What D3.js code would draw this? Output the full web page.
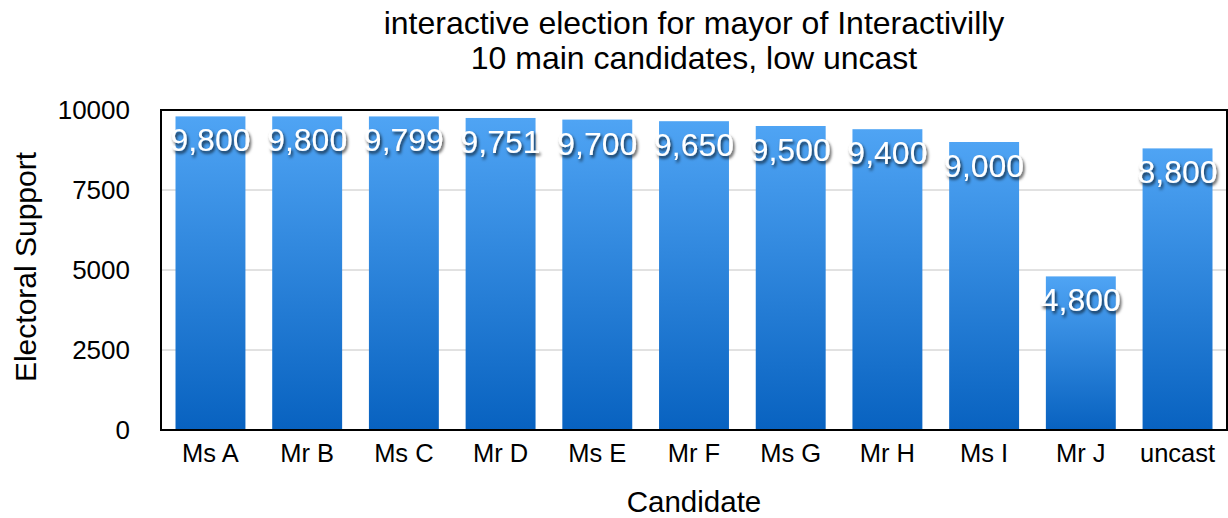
<!DOCTYPE html>
<html>
<head>
<meta charset="utf-8">
<script src="https://cdn.jsdelivr.net/npm/d3@7"></script>
<style>
  html, body { margin: 0; padding: 0; background: #fff; }
  svg { display: block; font-family: "Liberation Sans", Arial, Helvetica, sans-serif; }
</style>
</head>
<body>
<svg id="chart" width="1228" height="518"></svg>
<script>
// Candidates and their electoral support
const candidates = ["Ms A", "Mr B", "Ms C", "Mr D", "Ms E", "Mr F", "Ms G", "Mr H", "Ms I", "Mr J", "uncast"];
const support = [9800, 9800, 9799, 9751, 9700, 9650, 9500, 9400, 9000, 4800, 8800];
const yTicks = [0, 2500, 5000, 7500, 10000];
const titleLines = ["interactive election for mayor of Interactivilly", "10 main candidates, low uncast"];
const xTitle = "Candidate";
const yTitle = "Electoral Support";

const data = candidates.map((c, i) => ({ name: c, value: support[i] }));

const svg = d3.select("#chart");
const frame = { left: 161, right: 1227, top: 110, bottom: 430 };

const x = d3.scaleBand()
  .domain(candidates)
  .range([frame.left, frame.right])
  .paddingInner(0.277)
  .paddingOuter(0.15);

const y = d3.scaleLinear()
  .domain([0, 10000])
  .range([frame.bottom, frame.top]);

const defs = svg.append("defs");
const grad = defs.append("linearGradient")
  .attr("id", "barGrad")
  .attr("x1", 0).attr("y1", 0).attr("x2", 0).attr("y2", 1);
grad.append("stop").attr("offset", "0%").attr("stop-color", "#4fa4f4");
grad.append("stop").attr("offset", "100%").attr("stop-color", "#0862c0");

const shadow = defs.append("filter")
  .attr("id", "labelShadow")
  .attr("x", "-20%").attr("y", "-30%").attr("width", "140%").attr("height", "160%");
shadow.append("feDropShadow")
  .attr("dx", 1.5).attr("dy", 2.5)
  .attr("stdDeviation", 1.6)
  .attr("flood-color", "#000")
  .attr("flood-opacity", 0.75);

// Horizontal gridlines
svg.append("g")
  .selectAll("line")
  .data(yTicks.filter(t => t > 0 && t < 10000))
  .join("line")
  .attr("x1", frame.left).attr("x2", frame.right)
  .attr("y1", d => y(d)).attr("y2", d => y(d))
  .attr("stroke", "#c4c4c4")
  .attr("stroke-width", 1);

// Bars
svg.append("g")
  .selectAll("rect")
  .data(data)
  .join("rect")
  .attr("x", d => x(d.name))
  .attr("width", x.bandwidth())
  .attr("y", d => y(d.value))
  .attr("height", d => y(0) - y(d.value))
  .attr("fill", "url(#barGrad)");

// Plot frame
svg.append("rect")
  .attr("x", frame.left).attr("y", frame.top)
  .attr("width", frame.right - frame.left)
  .attr("height", frame.bottom - frame.top)
  .attr("fill", "none")
  .attr("stroke", "#000")
  .attr("stroke-width", 2);

// Value labels
const fmt = d3.format(",");
svg.append("g")
  .selectAll("text")
  .data(data)
  .join("text")
  .attr("x", d => x(d.name) + x.bandwidth() / 2)
  .attr("y", d => y(d.value) + 35)
  .attr("text-anchor", "middle")
  .attr("font-size", 32)
  .attr("fill", "#fff")
  .attr("filter", "url(#labelShadow)")
  .text(d => fmt(d.value));

// Y axis
const yAxis = d3.axisLeft(y)
  .tickValues(yTicks)
  .tickSize(0)
  .tickPadding(31)
  .tickFormat(d3.format("d"));
const yg = svg.append("g")
  .attr("transform", `translate(${frame.left},0)`)
  .call(yAxis);
yg.select(".domain").remove();
yg.selectAll("text")
  .attr("font-size", 26)
  .attr("fill", "#000")
  .attr("font-family", "Liberation Sans, Arial, sans-serif");

// X axis
const xAxis = d3.axisBottom(x).tickSize(0).tickPadding(14);
const xg = svg.append("g")
  .attr("transform", `translate(0,${frame.bottom})`)
  .call(xAxis);
xg.select(".domain").remove();
xg.selectAll("text")
  .attr("font-size", 25.5)
  .attr("fill", "#000")
  .attr("font-family", "Liberation Sans, Arial, sans-serif");

// Titles
const cx = (frame.left + frame.right) / 2;
svg.append("g")
  .selectAll("text")
  .data(titleLines)
  .join("text")
  .attr("x", cx)
  .attr("y", (d, i) => 34 + i * 35)
  .attr("text-anchor", "middle")
  .attr("font-size", 32)
  .attr("fill", "#000")
  .text(d => d);

svg.append("text")
  .attr("x", cx)
  .attr("y", 512)
  .attr("text-anchor", "middle")
  .attr("font-size", 29.5)
  .attr("fill", "#000")
  .text(xTitle);

svg.append("text")
  .attr("transform", `translate(36,${(frame.top + frame.bottom) / 2 - 3}) rotate(-90)`)
  .attr("text-anchor", "middle")
  .attr("font-size", 30)
  .attr("fill", "#000")
  .text(yTitle);
</script>
</body>
</html>
